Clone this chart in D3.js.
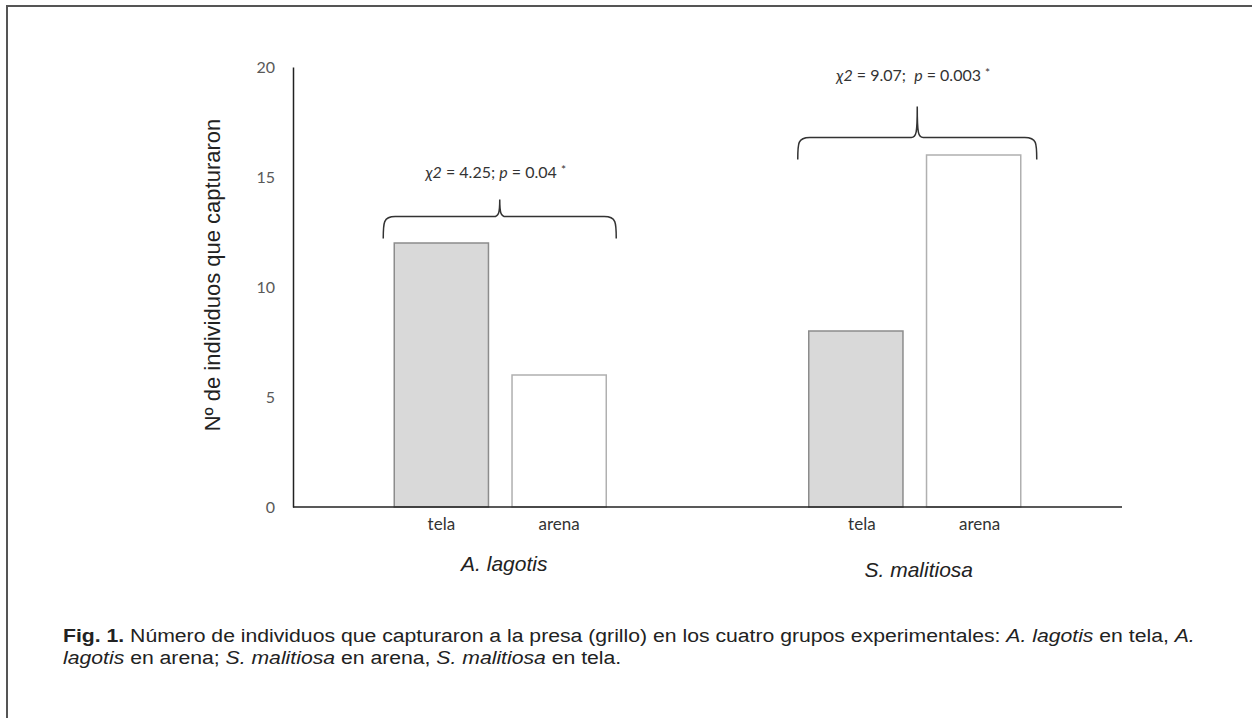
<!DOCTYPE html>
<html>
<head>
<meta charset="utf-8">
<script src="https://cdn.jsdelivr.net/npm/d3@7"></script>
<style>
  body { margin: 0; background: #fff; }
  svg { display: block; }
</style>
</head>
<body>
<div id="chart"></div>
<script>
// data
const groups = ['A. lagotis', 'S. malitiosa'];
const conditions = ['tela', 'arena'];
const telaValues = [12, 8];
const arenaValues = [6, 16];
const yTicks = [0, 5, 10, 15, 20];
const statLabels = ['4.25; ', '9.07;  '];
const pLabels = ['0.04', '0.003'];
const braceLevels = [13.2, 16.8];
const textLevels = [14.95, 19.35];
const tipHeights = [17, 31];

const width = 1252;
const height = 718;
const margin = { top: 67, right: 130, bottom: 211, left: 293 };
const sans = '"Liberation Sans", Arial, sans-serif';
const calib = 'Lato, "Open Sans", sans-serif';

const svg = d3.select('#chart')
  .append('svg')
  .attr('width', width)
  .attr('height', height);

// outer frame (only top and left visible in the original)
svg.append('path')
  .attr('d', `M7,${height} V6 H${width}`)
  .attr('fill', 'none')
  .attr('stroke', '#555')
  .attr('stroke-width', 2);

const x0 = d3.scalePoint()
  .domain(groups)
  .range([margin.left, width - margin.right])
  .padding(0.5);

const x1 = d3.scaleBand()
  .domain(conditions)
  .range([-106, 106])
  .paddingInner(0.2)
  .paddingOuter(0);

const y = d3.scaleLinear()
  .domain([0, 20])
  .range([height - margin.bottom, margin.top]);

const rows = [];
groups.forEach((g, i) => {
  rows.push({ group: g, gi: i, cond: 'tela', value: telaValues[i] });
  rows.push({ group: g, gi: i, cond: 'arena', value: arenaValues[i] });
});

// bars
svg.append('g')
  .selectAll('rect')
  .data(rows)
  .enter()
  .append('rect')
  .attr('x', (d) => x0(d.group) + x1(d.cond))
  .attr('y', (d) => y(d.value))
  .attr('width', x1.bandwidth())
  .attr('height', (d) => y(0) - y(d.value))
  .attr('fill', (d) => (d.cond === 'tela' ? '#d9d9d9' : '#fff'))
  .attr('stroke', (d) => (d.cond === 'tela' ? '#8c8c8c' : '#b0b0b0'))
  .attr('stroke-width', 1.5);

// y axis: plain line with labels, no tick marks
const yAxis = d3.axisLeft(y)
  .tickValues(yTicks)
  .tickSize(0)
  .tickPadding(18);

const yAxisG = svg.append('g')
  .attr('transform', `translate(${margin.left},0)`)
  .call(yAxis);
yAxisG.select('.domain').attr('stroke', '#222').attr('stroke-width', 1.5);
yAxisG.selectAll('.tick text')
  .attr('fill', '#595959')
  .style('font-family', calib)
  .style('font-size', '16px');

// baseline
svg.append('line')
  .attr('x1', margin.left)
  .attr('x2', width - margin.right)
  .attr('y1', y(0))
  .attr('y2', y(0))
  .attr('stroke', '#222')
  .attr('stroke-width', 1.5);

// category labels under bars
svg.append('g')
  .selectAll('text')
  .data(rows)
  .enter()
  .append('text')
  .attr('x', (d) => x0(d.group) + x1(d.cond) + x1.bandwidth() / 2 + d.gi * 6)
  .attr('y', y(0) + 23)
  .attr('text-anchor', 'middle')
  .attr('fill', '#333')
  .style('font-family', calib)
  .style('font-size', '17px')
  .text((d) => d.cond);

// group labels
svg.append('g')
  .selectAll('text')
  .data(groups)
  .enter()
  .append('text')
  .attr('x', (d) => x0(d) + 4)
  .attr('y', (d, i) => y(0) + 64 + i * 6)
  .attr('text-anchor', 'middle')
  .attr('fill', '#222')
  .style('font-family', sans)
  .style('font-style', 'italic')
  .style('font-size', '21px')
  .text((d) => d);

// y title
svg.append('text')
  .attr('transform', `translate(220,${(y(0) + y(20)) / 2 - 12}) rotate(-90)`)
  .attr('text-anchor', 'middle')
  .attr('fill', '#222')
  .style('font-family', sans)
  .style('font-size', '22px')
  .text('Nº de individuos que capturaron');

// curly braces with chi-square annotations
const brace = (xa, xb, yh, tip) => {
  const xm = (xa + xb) / 2;
  const drop = 22;
  const r = 6;
  return `M${xa},${yh + drop}`
    + ` C${xa},${yh + r} ${xa},${yh} ${xa + r * 2},${yh}`
    + ` H${xm - 6}`
    + ` C${xm - 1},${yh} ${xm},${yh - 4} ${xm},${yh - tip}`
    + ` C${xm},${yh - 4} ${xm + 1},${yh} ${xm + 6},${yh}`
    + ` H${xb - r * 2}`
    + ` C${xb},${yh} ${xb},${yh + r} ${xb},${yh + drop}`;
};

groups.forEach((g, i) => {
  const xa = x0(g) + x1('tela') - 11;
  const xb = x0(g) + x1('arena') + x1.bandwidth() + 10 + i * 6;
  const yh = y(braceLevels[i]);
  svg.append('path')
    .attr('d', brace(xa, xb, yh, tipHeights[i]))
    .attr('fill', 'none')
    .attr('stroke', '#333')
    .attr('stroke-width', 1.5);

  const t = svg.append('text')
    .attr('x', (xa + xb) / 2 - 4)
    .attr('y', y(textLevels[i]))
    .attr('text-anchor', 'middle')
    .attr('fill', '#333')
    .style('font-family', calib)
    .style('font-size', '16px')
    .attr('xml:space', 'preserve');
  t.append('tspan').style('font-style', 'italic').text('χ2');
  t.append('tspan').text(` = ${statLabels[i]}`);
  t.append('tspan').style('font-style', 'italic').text('p');
  t.append('tspan').text(` = ${pLabels[i]} `);
  t.append('tspan').attr('dy', -4).style('font-size', '12px').text('*');
});

// caption, stretched to the width of the original
const cap = svg.append('g')
  .style('font-family', sans)
  .style('font-size', '18px')
  .attr('fill', '#222');

const line1 = cap.append('text').attr('x', 0).attr('y', 642).attr('xml:space', 'preserve');
line1.append('tspan').style('font-weight', 'bold').text('Fig. 1.');
line1.append('tspan').text(' Número de individuos que capturaron a la presa (grillo) en los cuatro grupos experimentales: ');
line1.append('tspan').style('font-style', 'italic').text('A. lagotis');
line1.append('tspan').text(' en tela, ');
line1.append('tspan').style('font-style', 'italic').text('A.');

const line2 = cap.append('text').attr('x', 0).attr('y', 664).attr('xml:space', 'preserve');
line2.append('tspan').style('font-style', 'italic').text('lagotis');
line2.append('tspan').text(' en arena; ');
line2.append('tspan').style('font-style', 'italic').text('S. malitiosa');
line2.append('tspan').text(' en arena, ');
line2.append('tspan').style('font-style', 'italic').text('S. malitiosa');
line2.append('tspan').text(' en tela.');

const k = 1132 / line1.node().getComputedTextLength();
cap.attr('transform', `translate(63,0) scale(${k},1)`);
</script>
</body>
</html>
